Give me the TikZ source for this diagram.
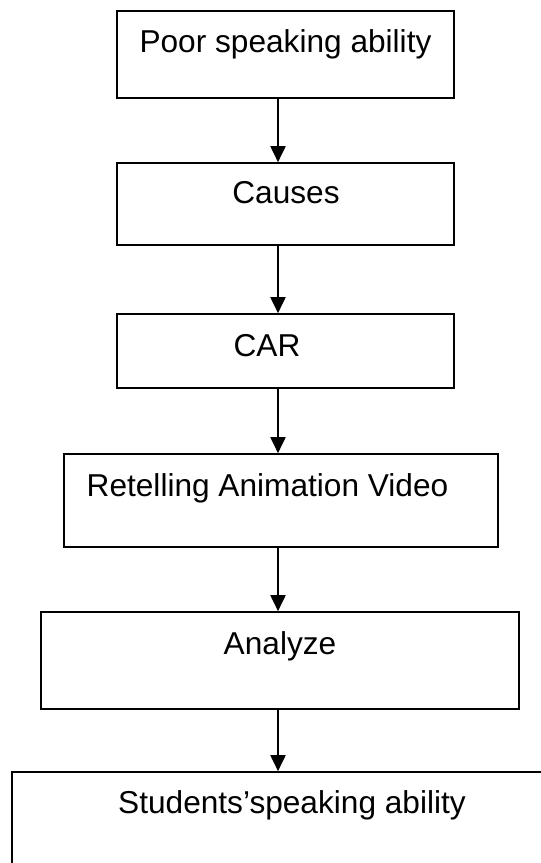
\documentclass[tikz,border=0pt]{standalone}
\usepackage{fontspec}
\setmainfont{Liberation Sans}
\usetikzlibrary{arrows.meta, positioning}
\usetikzlibrary{calc}

\begin{document}
\begin{tikzpicture}[x=0.03cm,y=-0.03cm,
		box/.style={draw,line width=1.4pt,minimum width=#1,inner sep=0pt},
		lbl/.style={anchor=base,inner sep=0pt,font=\fontsize{27}{32}\selectfont},
		flow/.style={line width=1.6pt,-{Triangle[length=0.48cm,width=0.45cm]}}]
				\useasboundingbox (0,0) rectangle (541,863);
				\clip (0,0) rectangle (541,863);
				\node[box=10.11cm,minimum height=2.61cm] (poor) at (285.5,54.5) {};
				\node[box=10.11cm,minimum height=2.46cm] (causes) at (285.5,204) {};
				\node[box=10.11cm,minimum height=2.22cm] (car) at (285.5,351) {};
				\node[box=13.02cm,minimum height=2.79cm] (retell) at (281,500.5) {};
				\node[box=14.34cm,minimum height=2.91cm] (analyze) at (280,660.5) {};
				\node[box=16.44cm,minimum height=3.24cm] (result) at (286,826) {};
				\node[lbl] (poortext) at (285.5,52) {Poor speaking ability};
				\node[lbl] (causestext) at (286,203) {Causes};
				\node[lbl] (cartext) at (267,356) {CAR};
				\node[lbl] (retelltext) at (267.5,496) {Retelling Animation Video};
				\node[lbl] (analyzetext) at (280,654) {Analyze};
				\node[lbl] (resulttext) at (292,813) {Students'speaking ability};
				\coordinate (ax) at (278,0);
				\draw[flow] (poor.south -| ax) -- (causes.north -| ax);
				\draw[flow] (causes.south -| ax) -- (car.north -| ax);
				\draw[flow] (car.south -| ax) -- (retell.north -| ax);
				\draw[flow] (retell.south -| ax) -- (analyze.north -| ax);
				\draw[flow] (analyze.south -| ax) -- (result.north -| ax);
			\end{tikzpicture}
\end{document}
